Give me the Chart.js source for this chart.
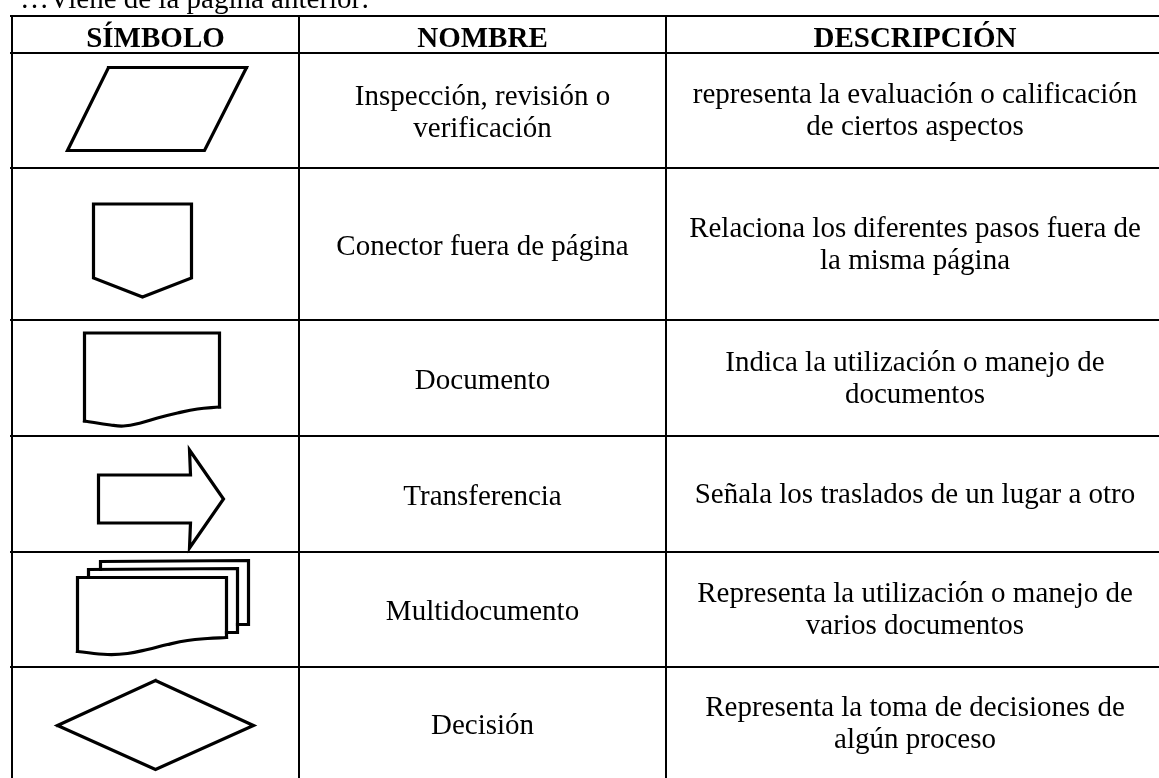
<!DOCTYPE html>
<html lang="es">
<head>
    <meta charset="UTF-8">
    <title>Símbolos de diagrama de flujo</title>
    <script src="https://cdn.jsdelivr.net/npm/chart.js"></script>
    <style>
        html, body { margin: 0; padding: 0; background: #fff; }
        canvas { display: block; }
    </style>
</head>
<body>
    <canvas id="tablaSimbolos" width="1159" height="778"></canvas>

    <script>
        // Contenido de la tabla
        const encabezados = ['SÍMBOLO', 'NOMBRE', 'DESCRIPCIÓN'];
        const simbolos = ['inspeccion', 'conector', 'documento', 'transferencia', 'multidocumento', 'decision'];
        const nombres = [
            ['Inspección, revisión o', 'verificación'],
            ['Conector fuera de página'],
            ['Documento'],
            ['Transferencia'],
            ['Multidocumento'],
            ['Decisión']
        ];
        const descripciones = [
            ['representa la evaluación o calificación', 'de ciertos aspectos'],
            ['Relaciona los diferentes pasos fuera de', 'la misma página'],
            ['Indica la utilización o manejo de', 'documentos'],
            ['Señala los traslados de un lugar a otro'],
            ['Representa la utilización o manejo de', 'varios documentos'],
            ['Representa la toma de decisiones de', 'algún proceso']
        ];
        const textoSuperior = '…Viene de la página anterior:';

        // Geometría de la tabla (unidades de los ejes)
        const bordesCol = [12, 299, 666, 1164];
        const bordesFila = [16, 53, 168, 320, 436, 552, 667, 780];

        // Contornos de los símbolos, relativos al centro de su celda
        const formas = {
            inspeccion: [
                { pts: [[-47, -43], [91, -43], [49, 40], [-88, 40], [-47, -43], [91, -43]] }
            ],
            conector: [
                { pts: [[-62, -40], [36, -40], [36, 34], [-13, 53], [-62, 34], [-62, -40], [36, -40]] }
            ],
            documento: [
                { pts: [[-71, 43], [-71, -45], [64, -45], [64, 29]] },
                { pts: [[64, 29], [42, 31], [22, 35], [2, 40], [-15, 45], [-32, 48], [-45, 47], [-71, 43]], curva: true }
            ],
            transferencia: [
                { pts: [[-57, -19], [35, -19], [34, -44], [68, 5], [34, 54], [35, 29], [-57, 29], [-57, -19], [35, -19]] }
            ],
            multidocumento: [
                { pts: [[-55, -40], [-55, -48], [93, -49], [93, 15], [82, 15]] },
                { pts: [[-67, -32], [-67, -40], [82, -41], [82, 23], [71, 23]] },
                { pts: [[-78, 42], [-78, -32], [71, -32], [71, 28]] },
                { pts: [[71, 28], [52, 29], [32, 31], [12, 35], [-8, 40], [-28, 44], [-48, 45], [-78, 42]], curva: true }
            ],
            decision: [
                { pts: [[-98, 2], [0, -43], [98, 2], [0, 46], [-98, 2], [0, -43]] }
            ]
        };

        const negro = '#000';
        const fuente = '"Liberation Serif", "Times New Roman", serif';

        function centroCol(c) { return (bordesCol[c] + bordesCol[c + 1]) / 2; }
        function centroFila(f) { return (bordesFila[f] + bordesFila[f + 1]) / 2; }

        const datasets = [];

        // lineas verticales
        bordesCol.forEach(x => {
            datasets.push({
                data: [{ x: x, y: bordesFila[0] }, { x: x, y: 800 }],
                borderWidth: 2
            });
        });
        // lineas horizontales
        bordesFila.slice(0, -1).forEach(y => {
            datasets.push({
                data: [{ x: bordesCol[0] - 1, y: y }, { x: 1170, y: y }],
                borderWidth: 2
            });
        });
        // simbolos
        simbolos.forEach((s, i) => {
            const cx = centroCol(0);
            const cy = centroFila(i + 1);
            formas[s].forEach(trazo => {
                datasets.push({
                    data: trazo.pts.map(p => ({ x: cx + p[0], y: cy + p[1] })),
                    borderWidth: 3.2,
                    tension: trazo.curva ? 0.4 : 0
                });
            });
        });

        datasets.forEach(d => {
            d.showLine = true;
            d.borderColor = negro;
            d.pointRadius = 0;
            d.fill = false;
            d.borderJoinStyle = 'miter';
            d.borderCapStyle = 'square';
            if (d.tension === undefined) d.tension = 0;
        });

        const textos = {
            id: 'textos',
            afterDatasetsDraw(chart) {
                const ctx = chart.ctx;
                const sx = chart.scales.x, sy = chart.scales.y;
                const interlineado = 32;
                ctx.save();
                ctx.fillStyle = negro;
                ctx.textBaseline = 'alphabetic';

                ctx.textAlign = 'left';
                ctx.font = '29px ' + fuente;
                ctx.fillText(textoSuperior, sx.getPixelForValue(20), sy.getPixelForValue(8));

                ctx.textAlign = 'center';
                ctx.font = 'bold 29px ' + fuente;
                encabezados.forEach((t, c) => {
                    ctx.fillText(t, sx.getPixelForValue(centroCol(c)), sy.getPixelForValue(47));
                });

                ctx.font = '29px ' + fuente;
                const bloque = (lineas, x, yc) => {
                    lineas.forEach((l, k) => {
                        const y = yc + (k - (lineas.length - 1) / 2) * interlineado + 10.5;
                        ctx.fillText(l, sx.getPixelForValue(x), sy.getPixelForValue(y));
                    });
                };
                nombres.forEach((n, i) => bloque(n, centroCol(1), centroFila(i + 1)));
                descripciones.forEach((d, i) => bloque(d, centroCol(2), centroFila(i + 1) - 2));
                ctx.restore();
            }
        };

        new Chart(document.getElementById('tablaSimbolos'), {
            type: 'scatter',
            data: { datasets: datasets },
            options: {
                responsive: false,
                animation: false,
                layout: { padding: 0 },
                plugins: {
                    legend: { display: false },
                    tooltip: { enabled: false }
                },
                scales: {
                    x: { type: 'linear', min: 0, max: 1159, display: false },
                    y: { type: 'linear', min: 0, max: 778, reverse: true, display: false }
                }
            },
            plugins: [textos]
        });
    </script>
</body>
</html>
